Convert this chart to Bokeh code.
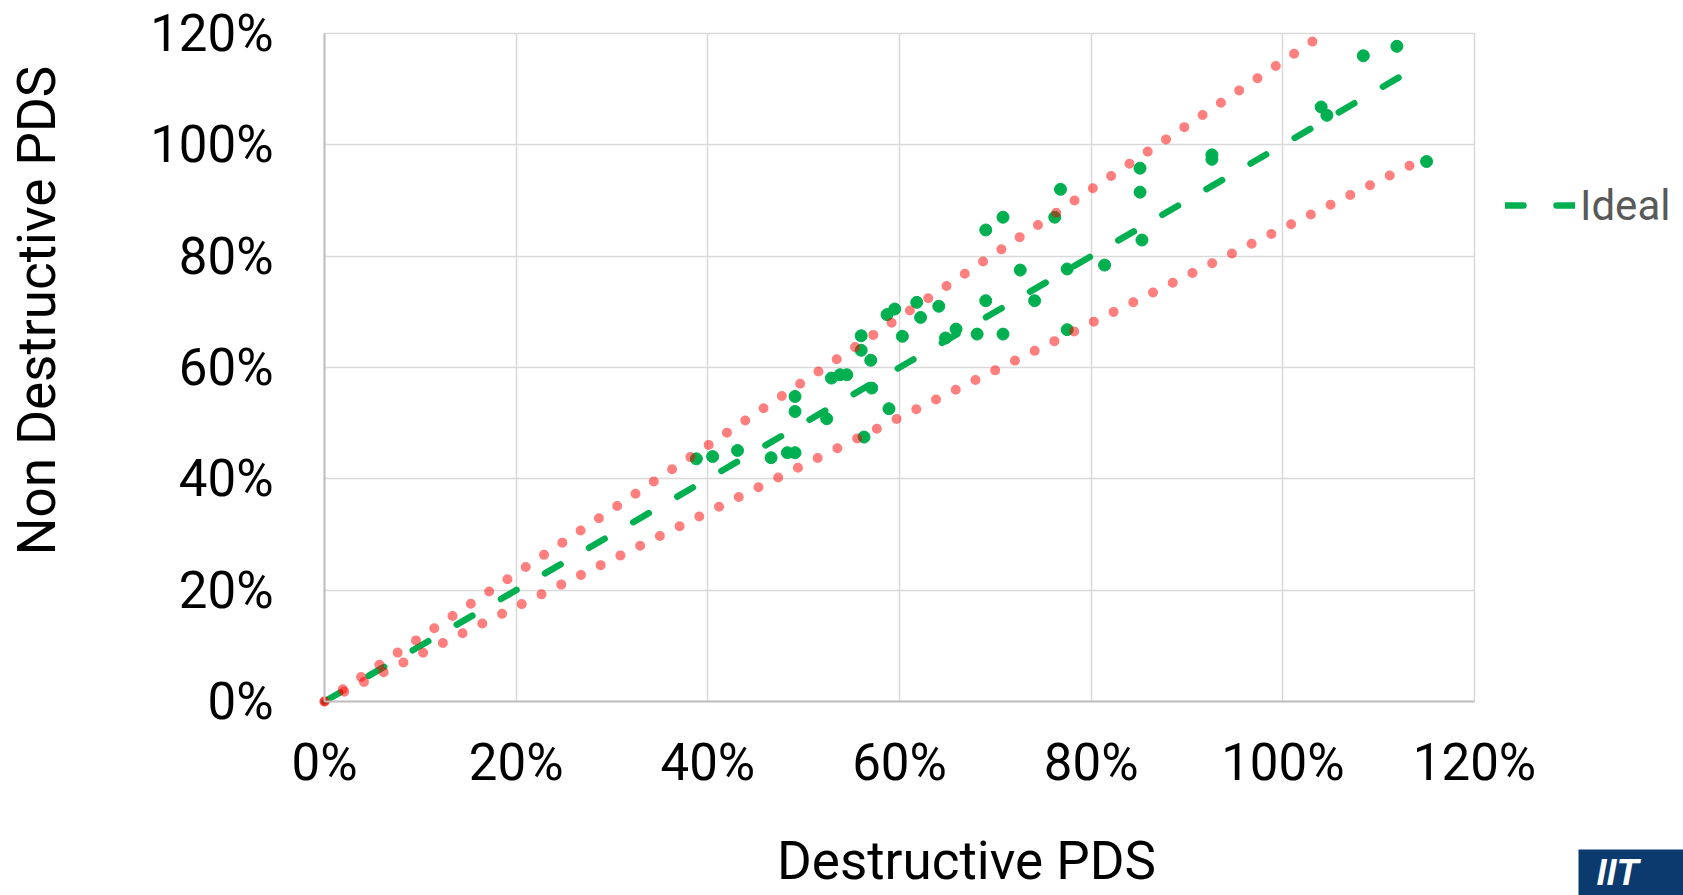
import math
from bokeh.plotting import figure
from bokeh.models import (FixedTicker, PrintfTickFormatter, Range1d, Legend,
                          LegendItem, Label, Grid, BoxAnnotation)
from bokeh.embed import file_html
from bokeh.resources import INLINE

# ---- data (percent) ----
destructive = [38.8, 40.5, 43.1, 46.6, 48.3, 49.1, 49.1, 49.1, 52.4, 52.9,
               53.8, 54.5, 56.3, 57.1, 58.9, 56.0, 56.0, 57.0, 58.7, 59.5,
               60.3, 61.8, 62.2, 64.1, 64.8, 65.9, 68.1, 69.0, 69.0, 70.8,
               70.8, 72.6, 74.1, 76.2, 76.8, 77.5, 77.5, 81.4, 85.1, 85.1,
               85.3, 92.6, 92.6, 104.0, 104.6, 108.4, 111.9, 115.0]
non_destructive = [43.6, 44.0, 45.1, 43.8, 44.7, 44.7, 54.8, 52.1, 50.8, 58.1,
                   58.7, 58.7, 47.5, 56.3, 52.6, 65.7, 63.1, 61.3, 69.5, 70.5,
                   65.6, 71.7, 69.0, 71.0, 65.3, 66.9, 66.0, 72.0, 84.7, 87.0,
                   66.0, 77.5, 72.0, 87.0, 92.0, 77.7, 66.8, 78.4, 95.8, 91.5,
                   82.9, 98.2, 97.4, 106.8, 105.3, 116.0, 117.7, 97.0]

ideal_x = [0, 115]
ideal_y = [0, 115]
upper_x = [0, 104.35]   # +15 % bound, ends where it meets the 120 % top
upper_y = [0, 120]
lower_x = [0, 115]
lower_y = [0, 97.75]    # -15 % bound

ticks = [0, 20, 40, 60, 80, 100, 120]
x_title = "Destructive PDS"
y_title = "Non Destructive PDS"
series_name = "Ideal"
logo_text = "IIT"

FONT = "Roboto"

# ---- layout: the frame fills the canvas, the plot box sits inside it ----
W, H = 1683, 895
BOX_L, BOX_R, BOX_T, BOX_B = 324, 1474, 33, 701
AX_MIN, AX_MAX = 0, 120
sx = (BOX_R - BOX_L) / (AX_MAX - AX_MIN)
sy = (BOX_B - BOX_T) / (AX_MAX - AX_MIN)
x_lo = AX_MIN - BOX_L / sx
x_hi = AX_MIN + (W - BOX_L) / sx
y_lo = AX_MIN - (H - BOX_B) / sy
y_hi = AX_MIN + BOX_B / sy


def dx(px):
    return x_lo + px / sx


def dy(py):
    return y_hi - py / sy


p = figure(width=W, height=H, output_backend="svg", toolbar_location=None,
           x_range=Range1d(x_lo, x_hi), y_range=Range1d(y_lo, y_hi),
           min_border=0, min_border_left=0, min_border_right=0,
           min_border_top=0, min_border_bottom=0)
p.outline_line_color = None
p.background_fill_color = "white"
p.border_fill_color = "white"

for ax in (p.xaxis[0], p.yaxis[0]):
    ax.fixed_location = 0
    ax.bounds = (AX_MIN, AX_MAX)
    ax.ticker = FixedTicker(ticks=ticks)
    ax.formatter = PrintfTickFormatter(format="%d%%")
    ax.major_tick_line_color = None
    ax.minor_tick_line_color = None
    ax.major_tick_out = 0
    ax.major_tick_in = 0
    ax.axis_line_color = "#bfbfbf"
    ax.axis_line_width = 2
    ax.major_label_text_font = FONT
    ax.major_label_text_font_size = "51px"
    ax.major_label_text_color = "#000000"

p.xaxis.major_label_standoff = 31
p.yaxis.major_label_standoff = 51

has_cross = "cross_bounds" in Grid.properties()
for g in (p.xgrid[0], p.ygrid[0]):
    g.ticker = FixedTicker(ticks=ticks)
    g.grid_line_color = "#d9d9d9"
    g.grid_line_width = 1.5
    if has_cross:
        g.cross_bounds = (AX_MIN, AX_MAX)
    else:
        g.visible = False

if not has_cross:
    n = len(ticks)
    p.segment(x0=ticks, y0=[AX_MIN] * n, x1=ticks, y1=[AX_MAX] * n,
              line_color="#d9d9d9", line_width=1.5, level="underlay")
    p.segment(x0=[AX_MIN] * n, y0=ticks, x1=[AX_MAX] * n, y1=ticks,
              line_color="#d9d9d9", line_width=1.5, level="underlay")

# ---- glyphs ----
p.scatter(destructive, non_destructive, size=12, color="#00b050")
ideal = p.line(ideal_x, ideal_y, line_color="#00b050", line_width=6.5,
               line_dash="18 33", line_cap="round")
p.line(upper_x, upper_y, line_color="#ff0000", line_alpha=0.5, line_width=10,
       line_dash="0 22", line_cap="round")
p.line(lower_x, lower_y, line_color="#ff0000", line_alpha=0.5, line_width=10,
       line_dash="0 22", line_cap="round")

# ---- legend ----
legend = Legend(items=[LegendItem(label=series_name, renderers=[ideal])],
                location=(1505, H - 230), padding=0, margin=0, spacing=0,
                border_line_color=None, background_fill_alpha=0,
                glyph_width=70, glyph_height=50, label_height=50,
                label_standoff=5,
                label_text_font=FONT, label_text_font_size="42px",
                label_text_color="#595959")
p.add_layout(legend)

# ---- axis titles ----
p.add_layout(Label(x=dx(36), y=dy(310), text=y_title, angle=math.pi / 2,
                   text_align="center", text_baseline="middle",
                   text_font=FONT, text_font_size="53px",
                   text_color="#000000"))
p.add_layout(Label(x=dx(966), y=dy(860), text=x_title,
                   text_align="center", text_baseline="middle",
                   text_font=FONT, text_font_size="53px",
                   text_color="#000000"))

# ---- logo in the bottom-right corner ----
p.add_layout(BoxAnnotation(left=dx(1578), right=dx(W + 10),
                           top=dy(849), bottom=dy(H + 10),
                           fill_color="#0a3a6e", fill_alpha=1.0,
                           line_color=None))
p.add_layout(Label(x=dx(1596), y=dy(872), text=logo_text,
                   text_align="left", text_baseline="middle",
                   text_font="Liberation Sans", text_font_style="bold italic",
                   text_font_size="36px", text_color="white"))

open("out.html", "w").write(file_html(p, INLINE))
